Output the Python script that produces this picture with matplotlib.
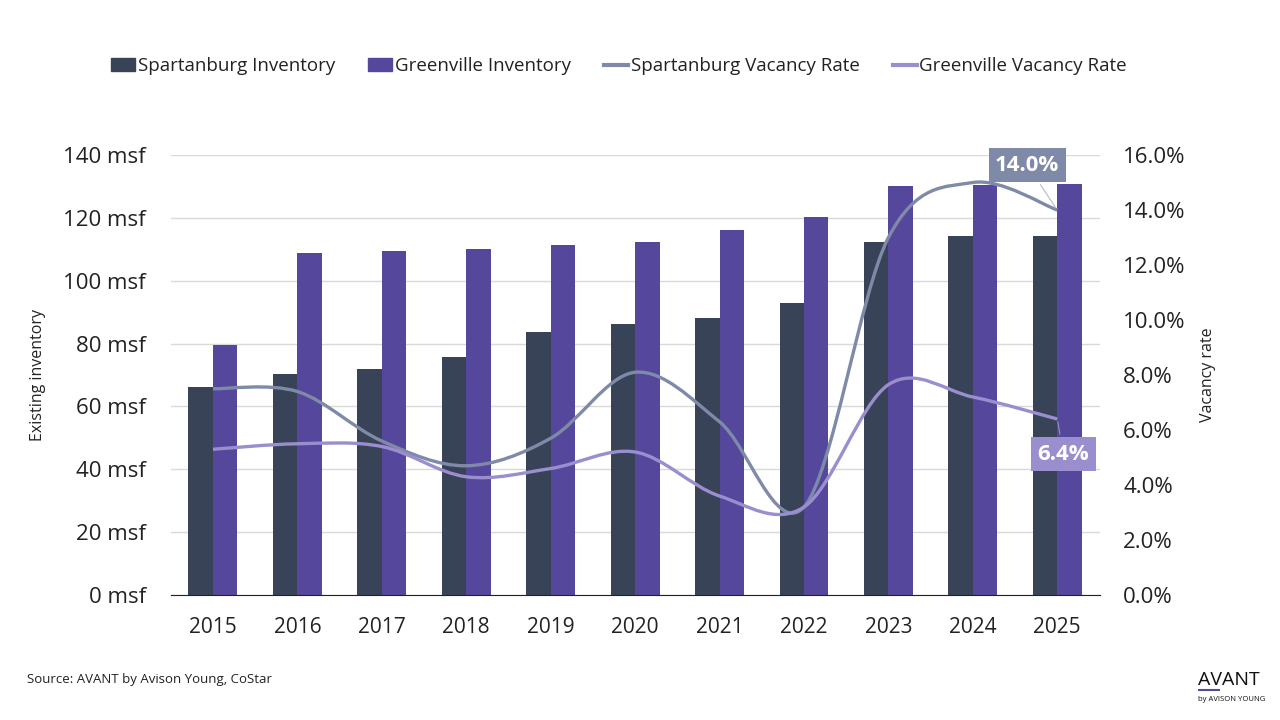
import matplotlib
matplotlib.use("Agg")
import matplotlib.pyplot as plt
import numpy as np
from matplotlib.path import Path
from matplotlib.patches import PathPatch, Patch
from matplotlib.lines import Line2D
from matplotlib.ticker import FuncFormatter, MultipleLocator

plt.rcParams['font.family'] = ['Open Sans', 'DejaVu Sans']

years = ['2015', '2016', '2017', '2018', '2019', '2020', '2021', '2022', '2023', '2024', '2025']
spartanburg_inv = [66.2, 70.3, 71.9, 75.7, 83.7, 86.2, 88.1, 92.9, 112.3, 114.2, 114.2]
greenville_inv = [79.5, 108.8, 109.4, 110.1, 111.4, 112.3, 116.1, 120.3, 130.1, 130.4, 130.8]
spartanburg_vac = [7.5, 7.4, 5.6, 4.7, 5.7, 8.1, 6.3, 3.2, 13.0, 15.0, 14.0]
greenville_vac = [5.3, 5.5, 5.4, 4.3, 4.6, 5.2, 3.6, 3.2, 7.65, 7.2, 6.4]

c_sp_bar = '#394357'
c_gv_bar = '#55479c'
c_sp_line = '#7f8aa8'
c_gv_line = '#9a8ecf'


def smooth_path(xs, ys):
    # Excel-style smoothed line: bezier with catmull-rom control points
    xs = np.asarray(xs, dtype=float)
    ys = np.asarray(ys, dtype=float)
    n = len(xs)
    verts = [(xs[0], ys[0])]
    codes = [Path.MOVETO]
    for i in range(n - 1):
        i0 = max(i - 1, 0)
        i3 = min(i + 2, n - 1)
        c1 = (xs[i] + (xs[i + 1] - xs[i0]) / 6, ys[i] + (ys[i + 1] - ys[i0]) / 6)
        c2 = (xs[i + 1] - (xs[i3] - xs[i]) / 6, ys[i + 1] - (ys[i3] - ys[i]) / 6)
        verts += [c1, c2, (xs[i + 1], ys[i + 1])]
        codes += [Path.CURVE4, Path.CURVE4, Path.CURVE4]
    return Path(verts, codes)


fig = plt.figure(figsize=(12.8, 7.2), dpi=100)
ax = fig.add_axes([0.1334, 0.1736, 0.7256, 0.6111])
ax2 = ax.twinx()

x = np.arange(len(years))
w = 0.29
ax.bar(x - w / 2, spartanburg_inv, width=w, color=c_sp_bar, zorder=2)
ax.bar(x + w / 2, greenville_inv, width=w, color=c_gv_bar, zorder=2)

ax.set_xlim(-0.5, len(years) - 0.5)
ax.set_ylim(0, 140)
ax.yaxis.set_major_locator(MultipleLocator(20))
ax.yaxis.set_major_formatter(FuncFormatter(lambda v, p: f"{v:.0f} msf"))
ax.set_xticks(x)
ax.set_xticklabels(years)
ax.grid(axis='y', color='#d9d9d9', linewidth=1, zorder=0)
ax.set_axisbelow(True)
for s in ['top', 'right', 'left']:
    ax.spines[s].set_visible(False)
ax.spines['bottom'].set_color('#222222')
ax.tick_params(axis='x', length=0, labelsize=15, colors='#222222', pad=16)
ax.tick_params(axis='y', length=0, labelsize=16, colors='#222222', pad=18)
ax.set_ylabel('Existing inventory', fontsize=11.5, color='#222222', labelpad=12)

ax2.set_ylim(0, 16)
ax2.yaxis.set_major_locator(MultipleLocator(2))
ax2.yaxis.set_major_formatter(FuncFormatter(lambda v, p: f"{v:.1f}%"))
for s in ax2.spines.values():
    s.set_visible(False)
ax2.tick_params(axis='y', length=0, labelsize=16, colors='#222222', pad=17)
ax2.set_ylabel('Vacancy rate', fontsize=11.5, color='#222222', labelpad=10)

ax2.add_patch(PathPatch(smooth_path(x, spartanburg_vac), facecolor='none',
                        edgecolor=c_sp_line, linewidth=2.4, zorder=3))
ax2.add_patch(PathPatch(smooth_path(x, greenville_vac), facecolor='none',
                        edgecolor=c_gv_line, linewidth=2.4, zorder=3))

# end labels
ax2.annotate(f"{spartanburg_vac[-1]:.1f}%", xy=(x[-1], spartanburg_vac[-1]),
             xytext=(-30, 45), textcoords='offset pixels', ha='center', va='center',
             fontsize=16, fontweight='bold', color='white',
             bbox=dict(boxstyle='square,pad=0.3', fc=c_sp_line, ec='none'),
             arrowprops=dict(arrowstyle='-', color='#b8bdc9', lw=0.8), zorder=5)
ax2.annotate(f"{greenville_vac[-1]:.1f}%", xy=(x[-1], greenville_vac[-1]),
             xytext=(6, -35), textcoords='offset pixels', ha='center', va='center',
             fontsize=16, fontweight='bold', color='white',
             bbox=dict(boxstyle='square,pad=0.3', fc=c_gv_line, ec='none'),
             arrowprops=dict(arrowstyle='-', color=c_gv_line, lw=0.8), zorder=5)

handles = [Patch(color=c_sp_bar), Patch(color=c_gv_bar),
           Line2D([], [], color=c_sp_line, lw=3), Line2D([], [], color=c_gv_line, lw=3)]
labels = ['Spartanburg Inventory', 'Greenville Inventory',
          'Spartanburg Vacancy Rate', 'Greenville Vacancy Rate']
fig.legend(handles, labels, loc='center', bbox_to_anchor=(0.4836, 0.908), ncol=4,
           frameon=False, fontsize=13.5, handlelength=1.28, handleheight=0.64,
           handletextpad=0.15, columnspacing=1.76, labelcolor='#222222')

fig.text(0.021, 0.052, 'Source: AVANT by Avison Young, CoStar', fontsize=9.5, color='#222222')
fig.text(0.936, 0.048, 'AVANT', fontsize=14, color='#111111', ha='left')
fig.text(0.936, 0.027, 'by AVISON YOUNG', fontsize=5.5, color='#111111', ha='left')
fig.add_artist(Line2D([0.937, 0.952], [0.041, 0.041], color=c_gv_bar, lw=1.5))

fig.savefig('out.png', dpi=100)
